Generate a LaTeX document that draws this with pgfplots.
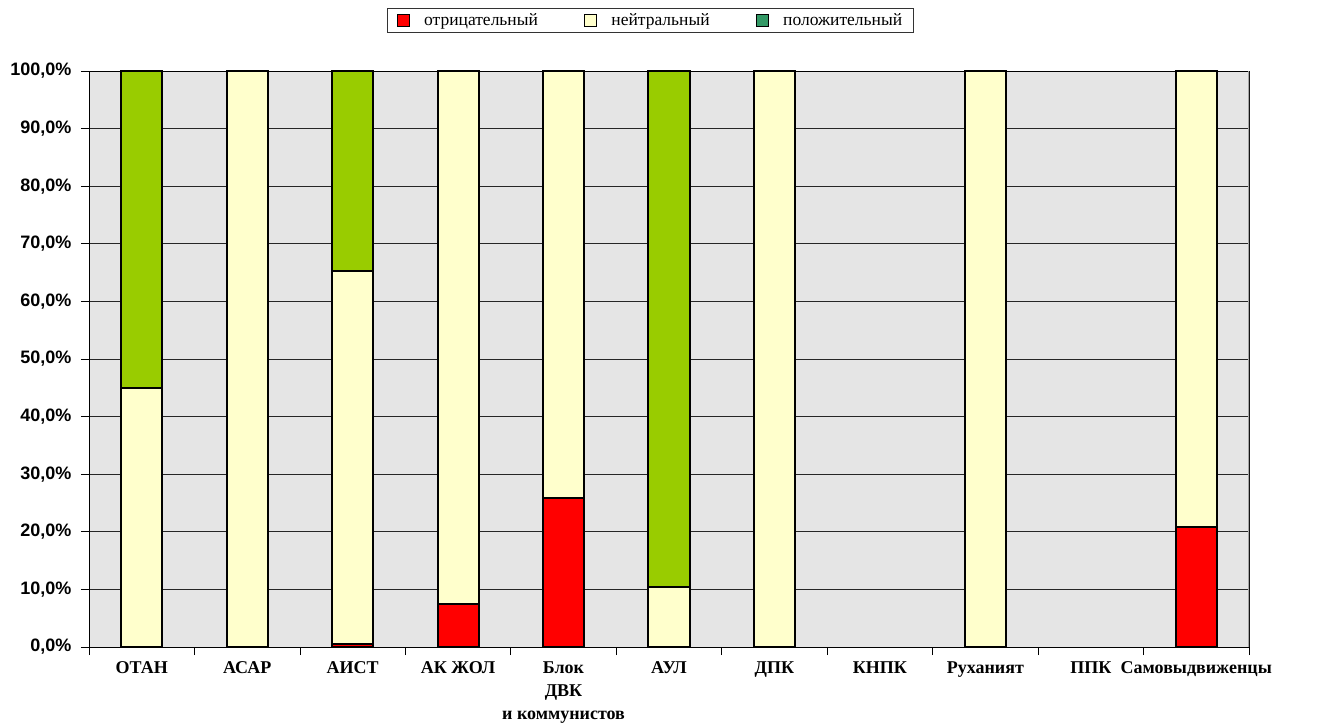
\documentclass[border=0pt]{standalone}
\usepackage{pgfplots}
\pgfplotsset{compat=1.18}
\usepackage{fontspec}
\setmainfont{Liberation Serif}
\setsansfont{Liberation Sans}
\definecolor{negred}{HTML}{FF0000}
\definecolor{neutral}{HTML}{FFFFCC}
\definecolor{posgreen}{HTML}{99CC00}
\definecolor{leggreen}{HTML}{339966}
\begin{document}
\begin{tikzpicture}
\useasboundingbox (-89pt,-78pt) rectangle (1228pt,647pt);
\begin{axis}[
scale only axis,
width=1160pt,
height=576pt,
ybar stacked,
bar width=41pt,
xmin=-0.5, xmax=10.5,
ymin=0, ymax=100,
xtick={0,...,10},
xticklabels={ОТАН,АСАР,АИСТ,АК ЖОЛ,{Блок\\ДВК\\и коммунистов},АУЛ,ДПК,КНПК,\raisebox{8pt}{Руханият},\raisebox{8pt}{ППК},\raisebox{8pt}{Самовыдвиженцы}},
minor xtick={-0.5,0.5,...,10.5},
major x tick style={draw=none},
minor x tick style={black, line width=0.8pt},
minor tick length=8pt,
ytick={0,10,...,100},
major tick length=8pt,
y tick style={black, line width=0.8pt},
tick align=outside,
tick pos=left,
ymajorgrids=true,
grid style={black!85, line width=0.8pt},
axis line style={black, line width=0.8pt},
axis background/.style={fill=gray!20},
/pgf/number format/assume math mode=true,
yticklabel={\pgfmathprintnumber[fixed,fixed zerofill,precision=1,use comma]{\tick}\%},
yticklabel style={font=\sffamily\bfseries\fontsize{18}{20}\selectfont, xshift=-6pt},
xticklabel style={font=\bfseries\fontsize{18}{23}\selectfont, align=center, yshift=-3pt},
legend columns=3,
legend style={at={(0.484,1.0877)}, anchor=center, draw=black!80, line width=1pt,
  font=\fontsize{17.5}{19}\selectfont,
  /tikz/every odd column/.append style={column sep=12pt},
  /tikz/every even column/.append style={column sep=44pt},
  inner xsep=9pt, inner ysep=3pt},
legend image code/.code={\draw[#1, draw=black, line width=1.5pt] (0pt,-6pt) rectangle (12pt,6pt);},
]
\addplot[fill=negred, draw=black, line width=2pt] coordinates {
(0,0) (1,0) (2,0.5) (3,7.4) (4,25.8) (5,0) (6,0) (7,0) (8,0) (9,0) (10,20.9)};
\addplot[fill=neutral, draw=black, line width=2pt] coordinates {
(0,45.0) (1,100) (2,64.8) (3,92.6) (4,74.2) (5,10.4) (6,100) (7,0) (8,100) (9,0) (10,79.1)};
\addplot[fill=posgreen, draw=black, line width=2pt, legend image post style={fill=leggreen}] coordinates {
(0,55.0) (1,0) (2,34.7) (3,0) (4,0) (5,89.6) (6,0) (7,0) (8,0) (9,0) (10,0)};
\legend{отрицательный,нейтральный,положительный}
\draw[gray!70, line width=1.5pt] (rel axis cs:1,0) -- (rel axis cs:1,1);
\end{axis}
\end{tikzpicture}
\end{document}
